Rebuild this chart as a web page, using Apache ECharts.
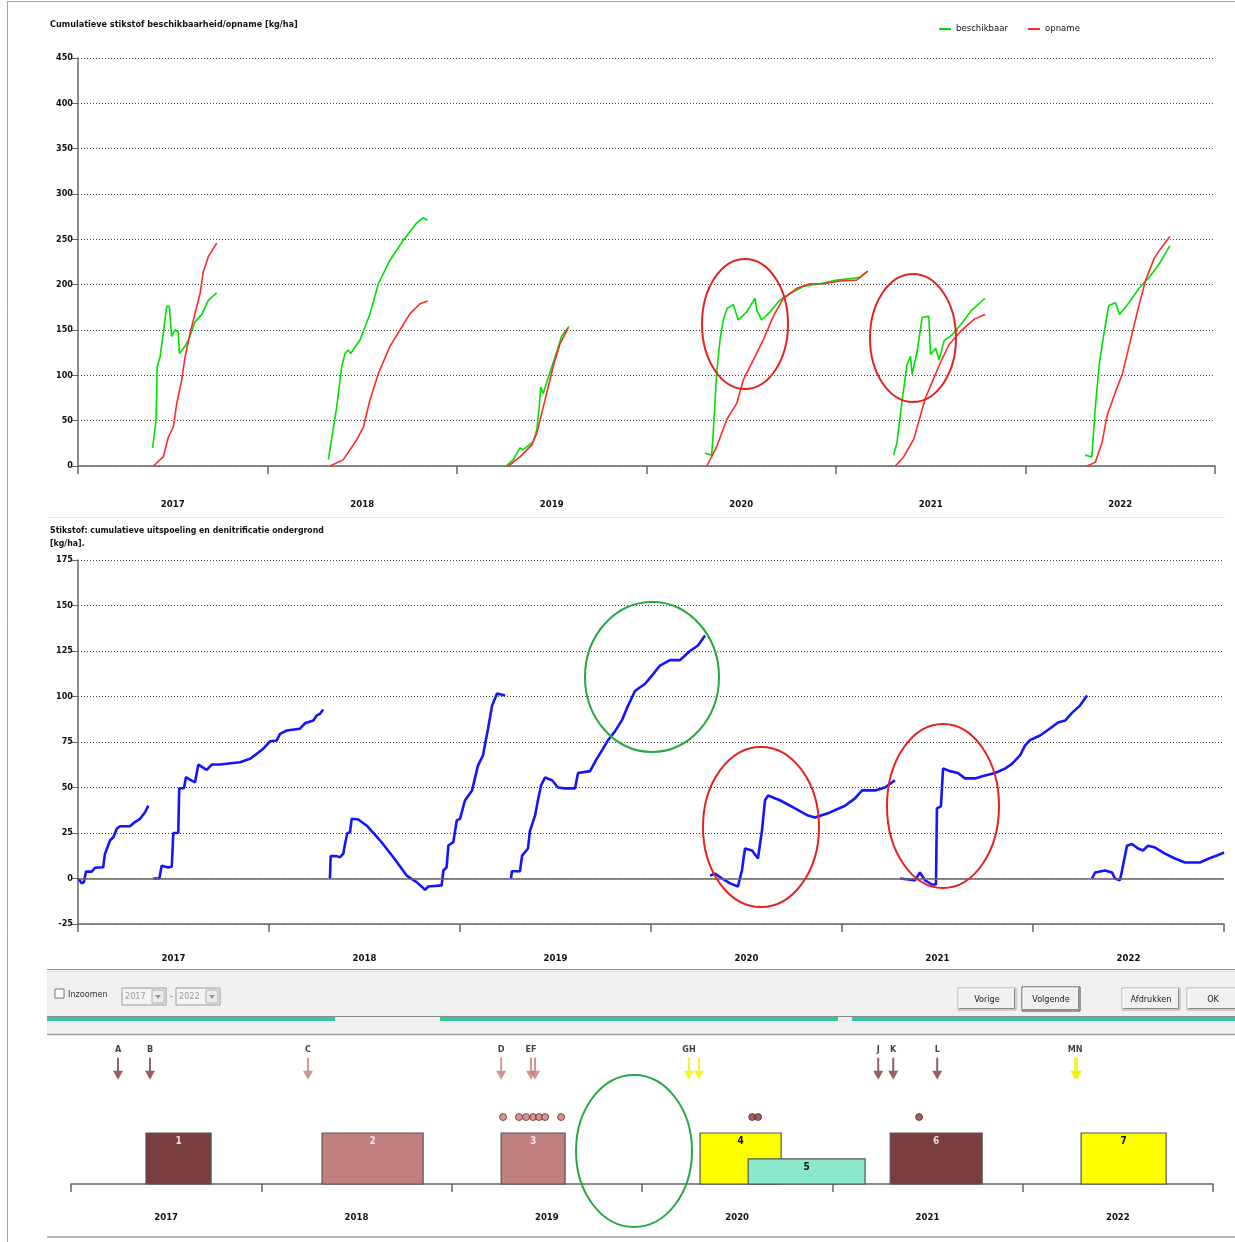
<!DOCTYPE html>
<html>
<head>
<meta charset="utf-8">
<script src="https://cdn.jsdelivr.net/npm/echarts@6/dist/echarts.min.js"></script>
<style>
  html, body { margin: 0; padding: 0; background: #fff; }
  #main { width: 1235px; height: 1242px; }
</style>
</head>
<body>
<div id="main"></div>
<script>
// jaren op de x-as (labels staan midden tussen de streepjes)
const years = ['2017', '2018', '2019', '2020', '2021', '2022'];

// cumulatief beschikbaar (groen), per seizoen [jaar, kg/ha]
const beschikbaar = [
  [[2017.394,20],[2017.412,51],[2017.418,110],[2017.433,120],[2017.450,146],[2017.468,176],[2017.482,176],[2017.494,143],[2017.512,150],[2017.529,148],[2017.535,124],[2017.565,132],[2017.591,143],[2017.617,159],[2017.653,167],[2017.688,183],[2017.732,191]],
  [[2018.321,7],[2018.365,65],[2018.392,110],[2018.409,124],[2018.426,128],[2018.439,124],[2018.488,139],[2018.541,168],[2018.585,201],[2018.646,227],[2018.717,249],[2018.787,268],[2018.822,274],[2018.845,271]],
  [[2019.259,0],[2019.297,7],[2019.332,20],[2019.350,18],[2019.403,27],[2019.421,40],[2019.434,65],[2019.442,87],[2019.455,80],[2019.482,98],[2019.517,120],[2019.552,143],[2019.591,154]],
  [[2020.309,14],[2020.344,12],[2020.352,36],[2020.370,102],[2020.388,139],[2020.405,161],[2020.426,174],[2020.458,178],[2020.484,161],[2020.529,170],[2020.573,185],[2020.582,172],[2020.608,161],[2020.652,170],[2020.704,183],[2020.757,190],[2020.827,198],[2020.916,201],[2021.004,205],[2021.091,207],[2021.127,208],[2021.167,215]],
  [[2021.304,12],[2021.322,26],[2021.348,71],[2021.375,112],[2021.393,121],[2021.402,101],[2021.428,126],[2021.455,164],[2021.490,165],[2021.499,123],[2021.526,130],[2021.544,117],[2021.570,138],[2021.614,145],[2021.659,156],[2021.712,171],[2021.786,185]],
  [[2022.315,12],[2022.350,10],[2022.368,64],[2022.389,112],[2022.413,145],[2022.439,177],[2022.475,180],[2022.496,167],[2022.546,180],[2022.599,196],[2022.652,208],[2022.706,223],[2022.762,243]]
];

// cumulatieve opname (rood)
const opname = [
  [[2017.397,0],[2017.450,10],[2017.477,32],[2017.503,43],[2017.521,69],[2017.547,95],[2017.565,120],[2017.591,146],[2017.617,168],[2017.644,190],[2017.661,214],[2017.688,231],[2017.732,246]],
  [[2018.330,0],[2018.400,7],[2018.471,29],[2018.506,43],[2018.541,73],[2018.585,102],[2018.646,132],[2018.699,150],[2018.752,168],[2018.805,179],[2018.845,182]],
  [[2019.271,0],[2019.332,10],[2019.394,23],[2019.421,36],[2019.447,58],[2019.473,80],[2019.508,110],[2019.544,135],[2019.587,152]],
  [[2020.318,0],[2020.370,21],[2020.423,51],[2020.476,69],[2020.511,95],[2020.564,117],[2020.616,139],[2020.669,165],[2020.722,185],[2020.793,196],[2020.863,201],[2020.933,201],[2021.021,204],[2021.109,205],[2021.167,215]],
  [[2021.313,0],[2021.357,10],[2021.411,30],[2021.446,56],[2021.472,75],[2021.508,93],[2021.553,115],[2021.597,134],[2021.659,149],[2021.730,162],[2021.786,167]],
  [[2022.324,0],[2022.368,4],[2022.404,26],[2022.431,56],[2022.475,82],[2022.510,101],[2022.550,135],[2022.590,170],[2022.634,205],[2022.679,229],[2022.714,240],[2022.762,253]]
];

// cumulatieve uitspoeling en denitrificatie (blauw)
const uitspoeling = [
  [[2017.002,0],[2017.019,-2.6],[2017.031,-2],[2017.042,3.8],[2017.072,3.8],[2017.089,5.9],[2017.132,6.2],[2017.141,13.5],[2017.168,21],[2017.185,22.7],[2017.203,27.3],[2017.220,28.7],[2017.272,28.7],[2017.298,31],[2017.325,32.8],[2017.351,36.4],[2017.368,40]],
  [[2017.394,0],[2017.426,0],[2017.438,7],[2017.473,6],[2017.491,6.6],[2017.499,25],[2017.525,25],[2017.530,49.6],[2017.555,49.6],[2017.565,55.7],[2017.595,53.8],[2017.613,52.9],[2017.630,62.6],[2017.674,59.7],[2017.700,62.6],[2017.743,62.6],[2017.848,63.9],[2017.901,65.8],[2017.936,68.5],[2017.970,71.3],[2018.005,75.4],[2018.040,75.8],[2018.058,79.5],[2018.093,81.3],[2018.162,82.3],[2018.188,85.3],[2018.232,86.8],[2018.250,89.6],[2018.267,90.5],[2018.284,92.9]],
  [[2018.319,0],[2018.323,12.3],[2018.354,12.3],[2018.372,11.7],[2018.389,13.6],[2018.398,19],[2018.410,24.9],[2018.424,25.4],[2018.433,32.8],[2018.468,32.4],[2018.512,29],[2018.581,21],[2018.651,11.7],[2018.721,1.6],[2018.773,-2],[2018.817,-6.2],[2018.834,-4.4],[2018.904,-3.8],[2018.913,4.4],[2018.930,6.2],[2018.939,18.1],[2018.965,20],[2018.983,31.9],[2019.000,32.8],[2019.026,42.9],[2019.063,48.4],[2019.094,62],[2019.120,67.6],[2019.147,82.4],[2019.168,95],[2019.194,101.6],[2019.236,100.5]],
  [[2019.267,0],[2019.272,4],[2019.314,4],[2019.325,12.6],[2019.356,16.5],[2019.366,26],[2019.393,34.6],[2019.408,43],[2019.424,51],[2019.445,55.5],[2019.482,54],[2019.513,50],[2019.550,49.5],[2019.602,49.5],[2019.618,58],[2019.681,59],[2019.712,65],[2019.749,71.4],[2019.775,76],[2019.812,81],[2019.848,87],[2019.880,95],[2019.916,103],[2019.969,107],[2020.005,111.5],[2020.047,117],[2020.099,120],[2020.152,120],[2020.204,125],[2020.246,128],[2020.283,133.5]],
  [[2020.309,1.6],[2020.335,2.7],[2020.372,0],[2020.414,-2.7],[2020.455,-4.4],[2020.476,4.4],[2020.492,16.5],[2020.529,15.4],[2020.560,11],[2020.581,26.4],[2020.597,43],[2020.613,45.6],[2020.675,43],[2020.754,38.5],[2020.822,34.6],[2020.859,33.5],[2020.937,36.3],[2021.016,40],[2021.068,44],[2021.105,48.4],[2021.173,48.4],[2021.225,50],[2021.277,54]],
  [[2021.304,0],[2021.382,-1],[2021.408,3.3],[2021.435,-1],[2021.471,-3.3],[2021.492,-3.3],[2021.497,38.5],[2021.518,39.6],[2021.529,60.4],[2021.565,59],[2021.607,58],[2021.644,55],[2021.696,55],[2021.749,56.6],[2021.801,58],[2021.853,60.4],[2021.890,63],[2021.932,67.6],[2021.958,73],[2021.984,76],[2022.037,78.6],[2022.089,82.4],[2022.131,85.7],[2022.168,86.8],[2022.204,91],[2022.246,95],[2022.283,100.5]],
  [[2022.309,0],[2022.325,3.3],[2022.377,4.4],[2022.414,3.3],[2022.429,0],[2022.455,-1],[2022.466,4.4],[2022.492,18],[2022.518,19],[2022.550,16.5],[2022.576,15.4],[2022.602,18],[2022.639,17],[2022.691,13.7],[2022.743,11],[2022.796,8.8],[2022.874,8.8],[2022.921,11],[2022.963,12.6],[2023.000,14.3]]
];

// teeltplan: [begin, eind, hoogte, nummer], soort = kleurgroep
const teelten = [
  [2017.394, 2017.736, 3.54, 1],
  [2018.319, 2018.850, 3.54, 2],
  [2019.260, 2019.596, 3.54, 3],
  [2020.305, 2020.731, 3.54, 4],
  [2020.558, 2021.172, 1.74, 5],
  [2021.304, 2021.787, 3.54, 6],
  [2022.307, 2022.754, 3.54, 7]
];
const teeltSoort = [0, 1, 1, 2, 3, 0, 2];

// bemestingen (pijlen): tijdstip, letter(s), soort
const pijlTijd   = [2017.247, 2017.415, 2018.245, 2019.260, 2019.417, 2019.438, 2020.247, 2020.300, 2021.241, 2021.320, 2021.551, 2022.276, 2022.286];
const pijlLetter = ['A', 'B', 'C', 'D', 'EF', '', 'GH', '', 'J', 'K', 'L', 'MN', ''];
const pijlSoort  = [0, 0, 1, 1, 1, 1, 2, 2, 0, 0, 0, 2, 2];

// bolletjes boven de teelten
const stipTijd  = [2019.270, 2019.354, 2019.391, 2019.428, 2019.459, 2019.491, 2019.575, 2020.579, 2020.610, 2021.456];
const stipSoort = [1, 1, 1, 1, 1, 1, 1, 0, 0, 0];

const FONT = '"Liberation Sans Narrow", "DejaVu Sans Condensed", "Roboto Condensed", sans-serif';
const kleur = { groen: '#00e000', rood: '#ff2a2a', blauw: '#1414ff', as: '#666' };
const teeltKleur = [
  { fill: '#7b3d3d', text: '#f2d6d6' },
  { fill: '#c08080', text: '#f6e4e4' },
  { fill: '#ffff00', text: '#111' },
  { fill: '#8ae8cc', text: '#111' }
];
const pijlKleur = ['#7b3b3b', '#c47c7c', '#f0f000'];
const ARROW = 'path://M4,0H6V13H10L5,22L0,13H4Z';

let chart = echarts.init(document.getElementById('main'));

// dezelfde naam per seizoen, zodat de legenda er één item van maakt
let lijnen = function(segments, name, color, width, axisIndex) {
  return segments.map(function(seg) {
    return {
      type: 'line', name: name, data: seg,
      xAxisIndex: axisIndex, yAxisIndex: axisIndex / 2,
      showSymbol: false, symbol: 'none', smooth: false,
      lineStyle: { color: color, width: width }, itemStyle: { color: color },
      silent: true, z: 3
    };
  });
};

let catAxis = function(grid, margin) {
  return {
    type: 'category', gridIndex: grid, data: years, boundaryGap: true, position: 'bottom',
    axisLine: { show: true, lineStyle: { color: kleur.as, width: 1.5 } },
    axisTick: { show: true, length: 8, lineStyle: { color: kleur.as, width: 1.5 } },
    axisLabel: { margin: margin, color: '#111', fontFamily: FONT, fontWeight: 'bold', fontSize: 9.5 },
    splitLine: { show: false }
  };
};
let hiddenX = function(grid) {
  return { type: 'value', gridIndex: grid, min: 2017, max: 2023, show: false };
};
let valueY = function(grid, min, max, interval) {
  return {
    type: 'value', gridIndex: grid, min: min, max: max, interval: interval,
    axisLine: { show: true, lineStyle: { color: kleur.as, width: 1.5 } },
    axisTick: { show: true, length: 7, lineStyle: { color: kleur.as } },
    axisLabel: { margin: 5, color: '#111', fontFamily: FONT, fontWeight: 'bold', fontSize: 9 },
    splitLine: { show: true, lineStyle: { color: '#444', width: 1, type: [1, 2] } }
  };
};

// Windows-achtige knop
let knop = function(x, y, w, h, label, dflt) {
  let els = [
    { type: 'rect', shape: { x: x, y: y, width: w, height: h }, style: { fill: '#f0f0f0', stroke: dflt ? '#404040' : '#a8a8a8', lineWidth: 1 } },
    { type: 'polyline', shape: { points: [[x + 1, y + h - 1], [x + 1, y + 1], [x + w - 1, y + 1]] }, style: { stroke: '#fff', fill: null, lineWidth: 1 } },
    { type: 'polyline', shape: { points: [[x + 1, y + h - 1.5], [x + w - 1.5, y + h - 1.5], [x + w - 1.5, y + 1]] }, style: { stroke: '#888', fill: null, lineWidth: 1 } },
    { type: 'text', style: { text: label, x: x + w / 2, y: y + h / 2 + 1, align: 'center', verticalAlign: 'middle', fill: '#222', font: '9px ' + FONT } }
  ];
  return els;
};
let combo = function(x, y, label) {
  return [
    { type: 'rect', shape: { x: x, y: y, width: 44, height: 17 }, style: { fill: '#f4f4f4', stroke: '#9a9a9a', lineWidth: 1 } },
    { type: 'text', style: { text: label, x: x + 3, y: y + 9, verticalAlign: 'middle', fill: '#999', font: '9px ' + FONT } },
    { type: 'rect', shape: { x: x + 30, y: y + 2, width: 12, height: 13 }, style: { fill: '#ececec', stroke: '#b0b0b0', lineWidth: 1 } },
    { type: 'polygon', shape: { points: [[x + 33, y + 7], [x + 39, y + 7], [x + 36, y + 11]] }, style: { fill: '#999' } }
  ];
};
let hl = function(x1, x2, y, color, w) {
  return { type: 'line', shape: { x1: x1, y1: y, x2: x2, y2: y }, style: { stroke: color, lineWidth: w || 1 }, silent: true };
};
let ovaal = function(cx, cy, rx, ry, color) {
  return { type: 'ellipse', shape: { cx: cx, cy: cy, rx: rx, ry: ry }, style: { fill: null, stroke: color, lineWidth: 2 }, z: 50, silent: true };
};

let graphics = [
  // kader van de schermafdruk
  { type: 'line', shape: { x1: 7.5, y1: 1, x2: 7.5, y2: 1242 }, style: { stroke: '#86a8d6', lineWidth: 1 } },
  hl(7, 1235, 1.5, '#86a8d6'),
  hl(48, 1225, 517.5, '#e4e4e4'),
  { type: 'text', style: { text: 'Cumulatieve stikstof beschikbaarheid/opname [kg/ha]', x: 50, y: 25, verticalAlign: 'middle', fill: '#111', font: 'bold 9px ' + FONT } },
  { type: 'text', style: { text: 'Stikstof: cumulatieve uitspoeling en denitrificatie ondergrond', x: 50, y: 531, verticalAlign: 'middle', fill: '#111', font: 'bold 8.7px ' + FONT } },
  { type: 'text', style: { text: '[kg/ha].', x: 50, y: 544, verticalAlign: 'middle', fill: '#111', font: 'bold 8.7px ' + FONT } },
  // bedieningsbalk
  { type: 'rect', shape: { x: 47, y: 971, width: 1188, height: 63 }, style: { fill: '#f0f0f0' }, z: -5 },
  hl(47, 1235, 969.5, '#8a8a8a', 1),
  hl(47, 1235, 971.5, '#d8d8d8', 1),
  { type: 'rect', shape: { x: 55, y: 989, width: 9, height: 9 }, style: { fill: '#fff', stroke: '#777', lineWidth: 1 } },
  { type: 'text', style: { text: 'Inzoomen', x: 68, y: 995, verticalAlign: 'middle', fill: '#333', font: '9px ' + FONT } },
  { type: 'text', style: { text: '-', x: 170, y: 997, verticalAlign: 'middle', fill: '#666', font: '9px ' + FONT } },
  hl(47, 1235, 1016.5, '#8a8a8a', 1),
  { type: 'rect', shape: { x: 47, y: 1017, width: 288, height: 4 }, style: { fill: '#34c6a2' } },
  { type: 'rect', shape: { x: 440, y: 1017, width: 398, height: 4 }, style: { fill: '#34c6a2' } },
  { type: 'rect', shape: { x: 852, y: 1017, width: 383, height: 4 }, style: { fill: '#34c6a2' } },
  hl(47, 1235, 1034.5, '#a0a0a0', 1.5),
  hl(47, 1235, 1237, '#a0a0a0', 1.5),
  // aantekeningen
  ovaal(745, 324, 43, 65, '#e52222'),
  ovaal(913, 338, 43, 64, '#e52222'),
  ovaal(652, 677, 67, 75, '#27a844'),
  ovaal(761, 827, 58, 80, '#e52222'),
  ovaal(943, 806, 56, 82, '#e52222'),
  ovaal(634, 1151, 58, 76, '#27a844')
]
  .concat(combo(122, 988, '2017'))
  .concat(combo(176, 988, '2022'))
  .concat(knop(958, 988, 58, 22, 'Vorige', false))
  .concat(knop(1022, 987, 58, 24, 'Volgende', true))
  .concat(knop(1122, 988, 58, 22, 'Afdrukken', false))
  .concat(knop(1187, 988, 52, 22, 'OK', false));

let series = []
  .concat(lijnen(beschikbaar, 'beschikbaar', kleur.groen, 1.6, 0))
  .concat(lijnen(opname, 'opname', kleur.rood, 1.6, 0))
  .concat(lijnen(uitspoeling, 'uitspoeling', kleur.blauw, 2.6, 2));

// nullijn in de middelste grafiek
series[series.length - 1].markLine = {
  silent: true, symbol: 'none', label: { show: false },
  lineStyle: { color: '#666', width: 1.5, type: 'solid' },
  data: [{ yAxis: 0 }]
};

series.push({
  type: 'custom', name: 'teelten', xAxisIndex: 4, yAxisIndex: 2, silent: true, z: 3,
  data: teelten,
  encode: { x: [0, 1], y: 2 },
  renderItem: function(params, api) {
    let p0 = api.coord([api.value(0), 0]);
    let p1 = api.coord([api.value(1), api.value(2)]);
    let st = teeltKleur[teeltSoort[params.dataIndex]];
    return {
      type: 'group',
      children: [
        { type: 'rect', shape: { x: p0[0], y: p1[1], width: p1[0] - p0[0], height: p0[1] - p1[1] },
          style: { fill: st.fill, stroke: '#555', lineWidth: 1.2 } },
        { type: 'text', style: { text: String(api.value(3)), x: (p0[0] + p1[0]) / 2, y: p1[1] + 8,
          align: 'center', verticalAlign: 'middle', fill: st.text, font: 'bold 10px ' + FONT } }
      ]
    };
  }
});

series.push({
  type: 'scatter', name: 'bemesting', xAxisIndex: 4, yAxisIndex: 2, silent: true, z: 4,
  symbol: ARROW, symbolSize: [10, 22],
  data: pijlTijd.map(function(t, i) {
    return { value: [t, 8.0], name: pijlLetter[i], itemStyle: { color: pijlKleur[pijlSoort[i]] } };
  }),
  label: { show: true, position: 'top', distance: 4, formatter: '{b}', color: '#111', fontFamily: FONT, fontWeight: 'bold', fontSize: 9 }
});

series.push({
  type: 'scatter', name: 'stippen', xAxisIndex: 4, yAxisIndex: 2, silent: true, z: 4,
  symbol: 'circle', symbolSize: 7,
  data: stipTijd.map(function(t, i) {
    return { value: [t, 4.65], itemStyle: { color: pijlKleur[stipSoort[i]], borderColor: '#6b2b2b', borderWidth: 1 } };
  })
});

chart.setOption({
  animation: false,
  backgroundColor: '#fff',
  textStyle: { fontFamily: FONT },
  legend: {
    data: ['beschikbaar', 'opname'],
    left: 934, top: 19, icon: 'rect', itemWidth: 12, itemHeight: 2, itemGap: 20,
    textStyle: { color: '#111', fontFamily: FONT, fontSize: 9.5 },
    selectedMode: false
  },
  grid: [
    { left: 78, top: 58, width: 1137, height: 408 },
    { left: 78, top: 560, width: 1146, height: 364 },
    { left: 71, top: 1040, width: 1142, height: 144 }
  ],
  xAxis: [
    hiddenX(0), catAxis(0, 34),
    hiddenX(1), catAxis(1, 30),
    hiddenX(2), catAxis(2, 29)
  ],
  yAxis: [
    valueY(0, 0, 450, 50),
    valueY(1, -25, 175, 25),
    { type: 'value', gridIndex: 2, min: 0, max: 10, show: false }
  ],
  graphic: graphics,
  series: series
});
</script>
</body>
</html>
